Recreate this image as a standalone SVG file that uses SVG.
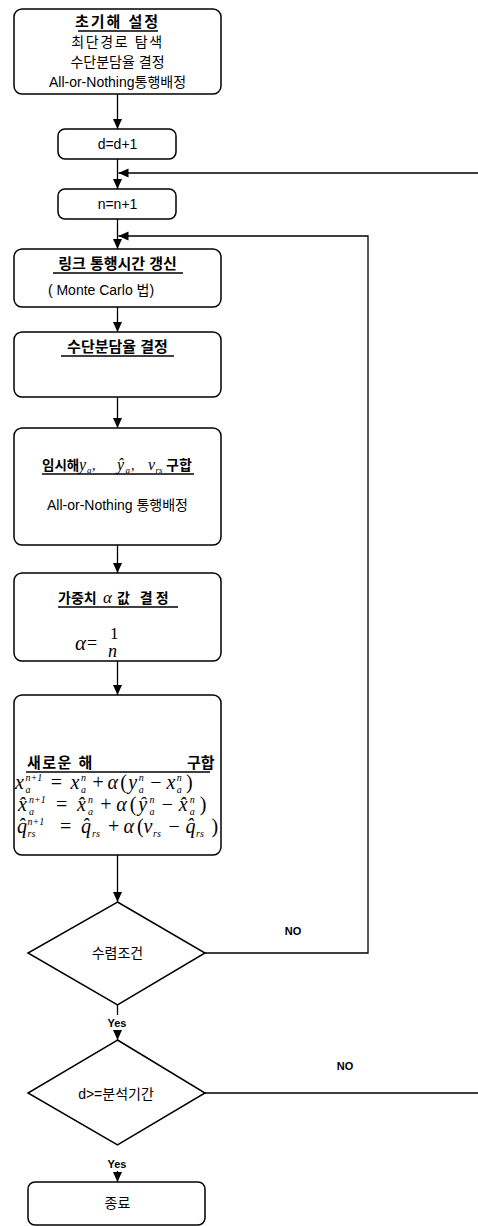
<svg xmlns="http://www.w3.org/2000/svg" width="478" height="1226" viewBox="0 0 478 1226">
<defs>
<style>
.box{fill:#fff;stroke:#000;stroke-width:1.5}
.t{font-family:"Liberation Sans","Noto Sans CJK KR",sans-serif;font-size:14px;fill:#000;text-anchor:middle}
.s{text-anchor:start}
.b{font-weight:bold;font-size:15px}
.m{font-family:"Liberation Serif","DejaVu Serif",serif;font-style:italic;fill:#000}
.r{font-style:normal}
.sc{font-size:10px}
.ul{stroke:#000;stroke-width:1.3}
.conn{stroke:#000;stroke-width:1.3;fill:none}
.lbl{font-family:"Liberation Sans",sans-serif;font-size:11px;font-weight:bold;fill:#000;text-anchor:middle}
</style>
<marker id="arr" markerUnits="userSpaceOnUse" markerWidth="10" markerHeight="10" refX="10" refY="5" orient="auto">
<path d="M0,0.5 L10,5 L0,9.5 z" fill="#000"/>
</marker>
</defs>
<rect width="478" height="1226" fill="#fff"/>

<g id="connectors">
<path class="conn" d="M117.5,94 V129" marker-end="url(#arr)"/>
<path class="conn" d="M117.5,159 V189" marker-end="url(#arr)"/>
<path class="conn" d="M117.5,219 V249" marker-end="url(#arr)"/>
<path class="conn" d="M117.5,307 V332" marker-end="url(#arr)"/>
<path class="conn" d="M117.5,397 V428" marker-end="url(#arr)"/>
<path class="conn" d="M117.5,545 V573" marker-end="url(#arr)"/>
<path class="conn" d="M117.5,661 V695" marker-end="url(#arr)"/>
<path class="conn" d="M117.5,855 V902" marker-end="url(#arr)"/>
<path class="conn" d="M117.5,1005 V1015"/>
<path class="conn" d="M117.5,1030 V1040" marker-end="url(#arr)"/>
<path class="conn" d="M117.5,1171 V1182" marker-end="url(#arr)"/>
<path class="conn" d="M205,953 H368 V236 H118.5" marker-end="url(#arr)"/>
<path class="conn" d="M205,1093 H478"/>
<path class="conn" d="M478,173 H118.5" marker-end="url(#arr)"/>
<text class="lbl" x="293" y="935">NO</text>
<text class="lbl" x="345" y="1070">NO</text>
<text class="lbl" x="117" y="1027">Yes</text>
<text class="lbl" x="117" y="1168">Yes</text>
</g>

<g id="init">
<rect class="box" x="14" y="9" width="207" height="85" rx="8"/>
<text class="t b" x="117.5" y="27" letter-spacing="2">초기해 설정</text>
<line class="ul" x1="78" y1="31" x2="158" y2="31"/>
<text class="t" x="117.5" y="47" letter-spacing="1.6">최단경로 탐색</text>
<text class="t" x="117.5" y="67">수단분담율 결정</text>
<text class="t" x="117.5" y="87" font-size="15.5">All-or-Nothing통행배정</text>
</g>

<g id="d-inc">
<rect class="box" x="58" y="129" width="118" height="30" rx="7"/>
<text class="t" x="117.5" y="149" font-size="15">d=d+1</text>
</g>

<g id="n-inc">
<rect class="box" x="58" y="189" width="118" height="30" rx="7"/>
<text class="t" x="117.5" y="209" font-size="15">n=n+1</text>
</g>

<g id="link-time">
<rect class="box" x="14" y="249" width="207" height="58" rx="8"/>
<text class="t b" x="117.5" y="269">링크 통행시간 갱신</text>
<line class="ul" x1="53" y1="273" x2="183" y2="273"/>
<text class="t" x="101" y="295" font-size="12.5">( Monte Carlo 법)</text>
</g>

<g id="mode-split">
<rect class="box" x="14" y="332" width="207" height="65" rx="8"/>
<text class="t b" x="117.5" y="352">수단분담율 결정</text>
<line class="ul" x1="61" y1="356" x2="174" y2="356"/>
</g>

<g id="temp-sol">
<rect class="box" x="14" y="428" width="207" height="117" rx="8"/>
<text class="t s" y="470"><tspan x="42" font-weight="bold" font-size="13.5">임시해</tspan><tspan class="m" x="79" font-size="16">y</tspan><tspan class="m" x="87" dy="3" font-size="9">a</tspan><tspan class="m" x="92" dy="-3" font-size="14">,</tspan><tspan class="m" x="117" font-size="16">ŷ</tspan><tspan class="m" x="125.5" dy="3" font-size="9">a</tspan><tspan class="m" x="131" dy="-3" font-size="14">,</tspan><tspan class="m" x="148" font-size="16">v</tspan><tspan class="m" x="155.5" dy="3" font-size="9">rs</tspan><tspan x="166" dy="-3" font-weight="bold" font-size="14">구합</tspan></text>
<line class="ul" x1="42" y1="474" x2="194" y2="474"/>
<text class="t" x="117.5" y="510" font-size="15">All-or-Nothing 통행배정</text>
</g>

<g id="weight">
<rect class="box" x="14" y="573" width="207" height="88" rx="8"/>
<text class="t s" y="603"><tspan x="58" font-weight="bold" font-size="14">가중치</tspan><tspan class="m" x="103" font-size="17">α</tspan><tspan x="117" font-weight="bold" font-size="14" letter-spacing="3">값 결정</tspan></text>
<line class="ul" x1="58" y1="607" x2="178" y2="607"/>
<text class="m" x="75" y="650" font-size="21">α</text>
<text class="m r" x="87" y="649" font-size="18">=</text>
<text class="m r" x="110" y="639" font-size="17">1</text>
<text class="m" x="108" y="657" font-size="18">n</text>
</g>

<g id="new-sol">
<rect class="box" x="14" y="695" width="207" height="160" rx="8"/>
<text class="t s b" x="27" y="768" letter-spacing="1.5">새로운 해</text>
<text class="t s b" x="187" y="768">구합</text>
<line class="ul" x1="26" y1="772" x2="210" y2="772"/>
<text class="m" y="789" font-size="20"><tspan x="15">x</tspan><tspan class="sc" x="25.4" dy="-8">n+1</tspan><tspan class="sc" x="25.4" dy="12">a</tspan><tspan class="r" x="50.8" dy="-4">=</tspan><tspan x="70.5">x</tspan><tspan class="sc" x="80.9" dy="-8">n</tspan><tspan class="sc" x="80.9" dy="12">a</tspan><tspan class="r" x="92.5" dy="-4">+</tspan><tspan x="107.5">α</tspan><tspan class="r" x="120.2">(</tspan><tspan x="128.3">y</tspan><tspan class="sc" x="138.7" dy="-8">n</tspan><tspan class="sc" x="138.7" dy="12">a</tspan><tspan class="r" x="150.3" dy="-4">−</tspan><tspan x="166.4">x</tspan><tspan class="sc" x="176.8" dy="-8">n</tspan><tspan class="sc" x="176.8" dy="12">a</tspan><tspan class="r" x="186.1" dy="-4">)</tspan></text>
<text class="m" y="811" font-size="20"><tspan x="18">x̂</tspan><tspan class="sc" x="29" dy="-8">n+1</tspan><tspan class="sc" x="29" dy="12">a</tspan><tspan class="r" x="56" dy="-4">=</tspan><tspan x="77">x̂</tspan><tspan class="sc" x="88" dy="-8">n</tspan><tspan class="sc" x="88" dy="12">a</tspan><tspan class="r" x="100.3" dy="-4">+</tspan><tspan x="116.2">α</tspan><tspan class="r" x="129.7">(</tspan><tspan x="138.3">ŷ</tspan><tspan class="sc" x="149.4" dy="-8">n</tspan><tspan class="sc" x="149.4" dy="12">a</tspan><tspan class="r" x="161.7" dy="-4">−</tspan><tspan x="178.8">x̂</tspan><tspan class="sc" x="189.8" dy="-8">n</tspan><tspan class="sc" x="189.8" dy="12">a</tspan><tspan class="r" x="199.7" dy="-4">)</tspan></text>
<text class="m" y="833" font-size="20"><tspan x="17">q̂</tspan><tspan class="sc" x="27.5" dy="-8">n+1</tspan><tspan class="sc" x="27.5" dy="12">rs</tspan><tspan class="r" x="60" dy="-4">=</tspan><tspan x="81">q̂</tspan><tspan class="sc" x="92" dy="4">rs</tspan><tspan class="r" x="108" dy="-4">+</tspan><tspan x="123.5">α</tspan><tspan class="r" x="137">(</tspan><tspan x="143.5">v</tspan><tspan class="sc" x="153" dy="4">rs</tspan><tspan class="r" x="168.5" dy="-4">−</tspan><tspan x="185.5">q̂</tspan><tspan class="sc" x="196" dy="4">rs</tspan><tspan class="r" x="211.5" dy="-4">)</tspan></text>
</g>

<g id="converge">
<polygon class="box" points="117.5,902 205,953 117.5,1005 28,953"/>
<text class="t" x="117.5" y="958">수렴조건</text>
</g>

<g id="period">
<polygon class="box" points="117.5,1040 205,1093 117.5,1145 28,1093"/>
<text class="t" x="116" y="1099">d&gt;=분석기간</text>
</g>

<g id="end">
<rect class="box" x="28" y="1182" width="177" height="43" rx="7"/>
<text class="t" x="117.5" y="1208">종료</text>
</g>
</svg>
